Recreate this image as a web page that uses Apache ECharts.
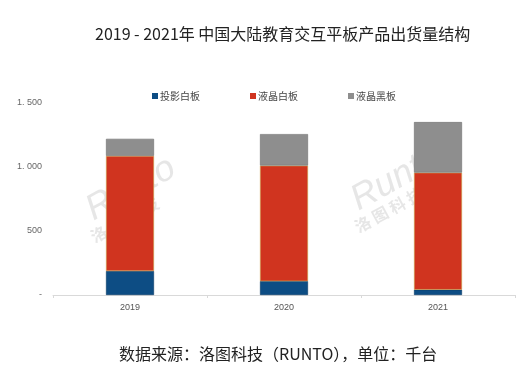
<!DOCTYPE html>
<html><head><meta charset="utf-8">
<script src="https://cdn.jsdelivr.net/npm/echarts@6/dist/echarts.min.js"></script>
<style>html,body{margin:0;padding:0;background:#fff}#c{width:531px;height:378px}</style>
</head><body><div id="c"></div>
<script>
const categories = ['2019', '2020', '2021'];
const projection = [187, 108, 41];
const lcdWhite = [900, 903, 915];
const lcdBlack = [133, 246, 395];
const seriesNames = ['投影白板', '液晶白板', '液晶黑板'];
const colors = ['#0d4d84', '#d0341f', '#8e8e8e'];
const borders = ['#0a3a66', '#c9a24a', '#6f6f6f'];

function fmt(v){ if(v===0) return '-'; if(v>=1000) return Math.floor(v/1000)+'. '+String(v%1000).padStart(3,'0'); return String(v); }

const chart = echarts.init(document.getElementById('c'), null, {renderer:'canvas'});
const data = [projection, lcdWhite, lcdBlack];
chart.setOption({
  animation:false,
  backgroundColor:'#fff',
  title:[{text:'2019 - 2021年 中国大陆教育交互平板产品出货量结构', left:90, top:21,
    textStyle:{fontSize:16, fontWeight:'normal', color:'#222', fontFamily:'"Noto Sans CJK SC", sans-serif'}},
    {text:'数据来源：洛图科技（RUNTO），单位：千台', left:114, top:341,
    textStyle:{fontSize:16, fontWeight:'normal', color:'#222', fontFamily:'"Noto Sans CJK SC", sans-serif'}}],
  legend:{top:86, left:147, itemWidth:6, itemHeight:6, itemGap:50, icon:'rect',
    itemStyle:{borderWidth:0},
    textStyle:{fontSize:10, color:'#444', fontFamily:'"Noto Sans CJK SC", sans-serif', padding:[0,0,0,-3]},
    data:seriesNames},
  grid:{left:53, right:16, top:103, bottom:83},
  xAxis:{type:'category', data:categories,
    axisLine:{lineStyle:{color:'#d9d9d9'}},
    axisTick:{show:true, lineStyle:{color:'#d9d9d9'}, length:3},
    axisLabel:{fontSize:9, color:'#555', margin:8}},
  yAxis:{type:'value', min:0, max:1500, interval:500,
    splitLine:{show:false}, axisLine:{show:false}, axisTick:{show:false},
    axisLabel:{fontSize:9, color:'#666', margin:11, formatter:v=>fmt(v)}},
  graphic:[
    {type:'text', left:80, top:150, rotation:0.5, style:{text:'Runto', fontSize:36, fontStyle:'italic', fill:'rgba(200,200,200,0.45)', fontFamily:'Arial'}},
    {type:'text', left:88, top:195, rotation:0.5, style:{text:'洛 图 科 技', fontSize:16, fontWeight:'bold', fill:'rgba(200,200,200,0.45)', fontFamily:'"Noto Sans CJK SC"'}},
    {type:'text', left:345, top:140, rotation:0.5, style:{text:'Runto', fontSize:36, fontStyle:'italic', fill:'rgba(200,200,200,0.45)', fontFamily:'Arial'}},
    {type:'text', left:352, top:185, rotation:0.5, style:{text:'洛 图 科 技', fontSize:16, fontWeight:'bold', fill:'rgba(200,200,200,0.45)', fontFamily:'"Noto Sans CJK SC"'}}
  ],
  series: seriesNames.map((n,i)=>({
    name:n, type:'bar', stack:'total', barWidth:48, data:data[i],
    itemStyle:{color:colors[i], borderColor:borders[i], borderWidth:0.6}
  }))
});
</script></body></html>
